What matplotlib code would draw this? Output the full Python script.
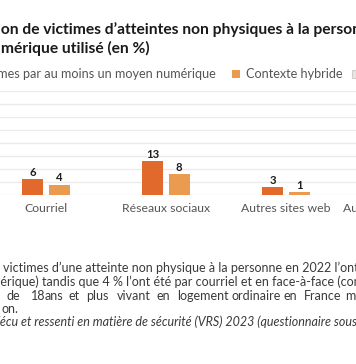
import matplotlib
matplotlib.use('Agg')
import matplotlib.pyplot as plt
import numpy as np
from matplotlib.patches import Rectangle

# ---------------- data ----------------
categories = ["Courriel", "Réseaux sociaux", "Autres sites web", "Autres moyens en ligne"]
numerique = [6, 13, 3, np.nan]
hybride = [4, 8, 1, np.nan]
yticks = [0, 5, 10, 15, 20, 25, 30, 35, 40]
legend_labels = ["Victimes par au moins un moyen numérique", "Contexte hybride"]

title_l1 = ("Proporti", "on de victimes d’atteintes non physiques à la personne selon le")
title_l2 = ("moyen nu", "mérique utilisé (en %)")
foot_l1 = "victimes d’une atteinte non physique à la personne en 2022 l’ont été"
foot_l2 = ("num", "érique) tandis que 4 % l’ont été par courriel et en face-à-face (contexte hybride)")
foot_l3 = ["de", "18", "ans", "et", "plus", "vivant", "en", "logement", "ordinaire", "en", "France", "métropolitaine,"]
foot_l4 = "on."
foot_l5 = ("V", "écu et ressenti en matière de sécurité (VRS) 2023 (questionnaire sous")

# ---------------- style ----------------
DARK = "#E0692B"
LIGHT = "#EA9B50"
W, H, DPI = 356, 364, 100
FONT = "Lato"

fig = plt.figure(figsize=(W / DPI, H / DPI), dpi=DPI)
R = fig.canvas.get_renderer()


def fx(px):
    return px / W


def fy(py):
    return 1 - py / H


def text_width(s, size, **kw):
    t = fig.text(0, 0, s, fontsize=size, family=FONT, **kw)
    w = t.get_window_extent(R).width
    t.remove()
    return w


def fit(s, target, **kw):
    return 10 * target / text_width(s, 10, **kw)


title_size = (fit("mérique utilisé (en %)", 145, weight="bold")
              + fit("on de victimes d’atteintes non physiques à la pers", 354, weight="bold")) / 2
legend_size = fit("Contexte hybride", 97)
tick_size = (fit("Réseaux sociaux", 88) + fit("Autres sites web", 90)) / 2
foot_size = fit("victimes d’une atteinte non physique à la personne en 2022", 328)
value_size = fit("13", 13, weight="bold")


def cut_text(x_vis, y_base, parts, size, **kw):
    prefix, rest = parts
    w = text_width(prefix, size, **kw)
    fig.text(fx(x_vis - w), fy(y_base), prefix + rest, fontsize=size,
             family=FONT, va="baseline", ha="left", **kw)


# ---------------- title ----------------
cut_text(1, 34, title_l1, title_size, weight="bold", color="#1a1a1a")
cut_text(0.5, 53.5, title_l2, title_size, weight="bold", color="#1a1a1a")

# ---------------- legend ----------------
fig.text(fx(216), fy(77.5), legend_labels[0], fontsize=legend_size, family=FONT,
         color="#555555", ha="right", va="baseline")
fig.add_artist(Rectangle((fx(232), fy(78)), 8 / W, 8 / H, transform=fig.transFigure,
                         facecolor=LIGHT, edgecolor="none"))
fig.text(fx(246), fy(77.5), legend_labels[1], fontsize=legend_size, family=FONT,
         color="#555555", ha="left", va="baseline")
fig.add_artist(Rectangle((fx(352), fy(78)), 8 / W, 8 / H, transform=fig.transFigure,
                         facecolor="#ebe6e1", edgecolor="#cfcfcf", lw=0.8))

# ---------------- axes ----------------
base_px, top_px = 195, 91
ax = fig.add_axes([0, fy(base_px), 1, (base_px - top_px) / H])
step = 120.0
c0 = 46.1
x = np.arange(len(categories))
bw = 21 / step
off = 13.2 / step
ax.bar(x - off, numerique, bw, color=DARK, zorder=3)
ax.bar(x + off, hybride, bw, color=LIGHT, zorder=3)
for xs, vals in ((x - off, numerique), (x + off, hybride)):
    for xi, v in zip(xs, vals):
        if np.isnan(v):
            continue
        ax.annotate(f"{v:g}", (xi, v), xytext=(0, 2.6), textcoords="offset points",
                    ha="center", va="baseline", fontsize=value_size, family=FONT,
                    weight="bold", color="#1e1e1e")

ax.set_yticks(yticks)
ax.yaxis.grid(True, color="#ebebeb", lw=1)
ax.set_axisbelow(True)
ax.set_xticks([])
ax.tick_params(axis="y", length=0, labelleft=False)
ax.set_xlim((0 - c0) / step, (W - c0) / step)
ax.set_ylim(0, 40)
# category labels (drawn as annotations so partly visible labels still show)
for xi, lab in zip(x, categories):
    ax.annotate(lab, (xi, 0), xytext=(0, -5.6), textcoords="offset points",
                ha="center", va="top", fontsize=tick_size, family=FONT,
                color="#555555", annotation_clip=False)
for s in ax.spines.values():
    s.set_visible(False)
ax.patch.set_alpha(0)

# ---------------- footer ----------------
FC = "#3a3a3a"
fig.text(fx(3.3), fy(272.5), foot_l1, fontsize=foot_size, family=FONT, color=FC,
         va="baseline")
cut_text(0.3, 285.5, foot_l2, foot_size, color=FC)
word_x = [6.7, 30.7, 45, 68.3, 86, 116.7, 156.3, 176.7, 231, 284, 304, 345]
for w_, xp in zip(foot_l3, word_x):
    fig.text(fx(xp), fy(300.5), w_, fontsize=foot_size, family=FONT, color=FC,
             va="baseline")
fig.text(fx(1), fy(312.8), foot_l4, fontsize=foot_size, family=FONT, color=FC,
         va="baseline")
cut_text(0, 325.8, foot_l5, foot_size, color=FC, style="italic")

fig.savefig("out.png", dpi=DPI)
